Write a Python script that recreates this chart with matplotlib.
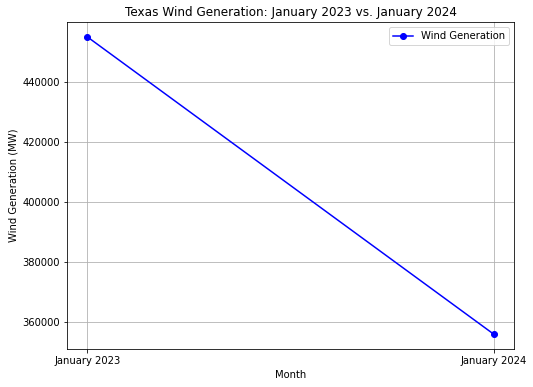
import matplotlib.pyplot as plt

months = ['January 2023', 'January 2024']
wind_mw = [455000, 356000]

fig = plt.figure(figsize=(533 / 72, 387 / 72), dpi=72)
ax = fig.add_axes([67 / 533, 38 / 387, 447 / 533, 327 / 387])

ax.plot(months, wind_mw, marker='o', color='blue', label='Wind Generation')

ax.set_title('Texas Wind Generation: January 2023 vs. January 2024')
ax.set_xlabel('Month')
ax.set_ylabel('Wind Generation (MW)')
ax.legend()
ax.grid(True)

fig.savefig('out.png', dpi=72)
